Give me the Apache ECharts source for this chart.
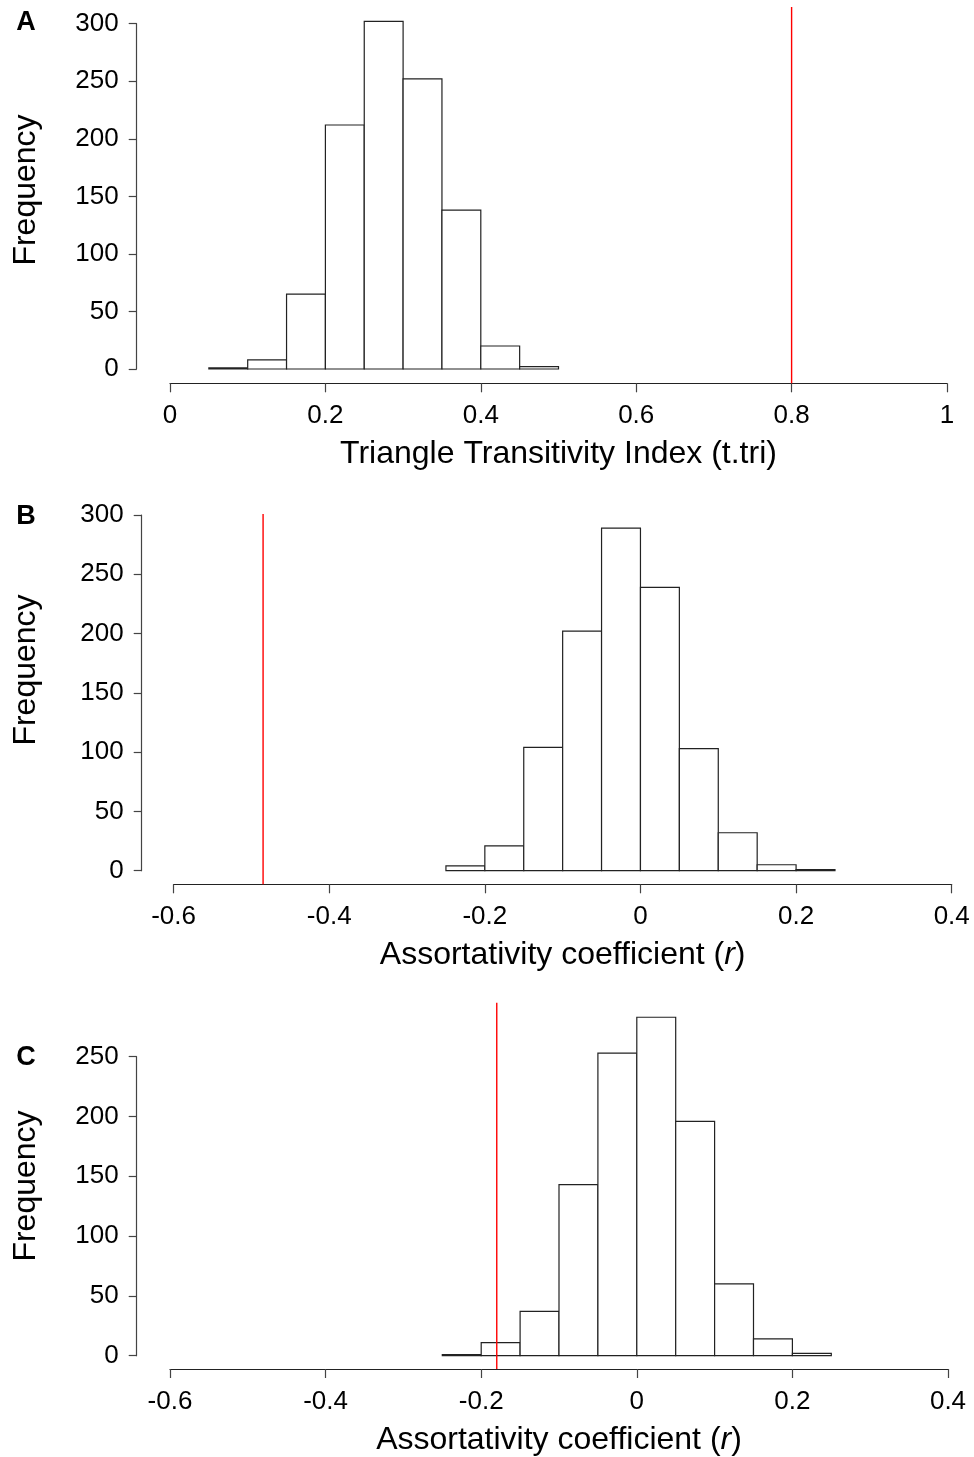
<!DOCTYPE html>
<html>
<head>
<meta charset="utf-8">
<script src="https://cdn.jsdelivr.net/npm/echarts@6/dist/echarts.min.js"></script>
<style>
html, body { margin: 0; padding: 0; background: #fff; }
#chart { width: 974px; height: 1457px; }
</style>
</head>
<body>
<div id="chart"></div>
<script>
// histogram data: lower bin edges and counts (bin width 0.05)
const binWidth = 0.05;

const binsA = [0.05, 0.10, 0.15, 0.20, 0.25, 0.30, 0.35, 0.40, 0.45];
const countsA = [1, 8, 65, 212, 302, 252, 138, 20, 2];
const observedA = 0.8;

const binsB = [-0.25, -0.20, -0.15, -0.10, -0.05, 0, 0.05, 0.10, 0.15, 0.20];
const countsB = [4, 21, 104, 202, 289, 239, 103, 32, 5, 1];
const observedB = -0.485;

const binsC = [-0.25, -0.20, -0.15, -0.10, -0.05, 0, 0.05, 0.10, 0.15, 0.20];
const countsC = [1, 11, 37, 143, 253, 283, 196, 60, 14, 2];
const observedC = -0.18;

const xRangeA = [0, 1];
const xRangeB = [-0.6, 0.4];
const xRangeC = [-0.6, 0.4];
const yMaxA = 300, yMaxB = 300, yMaxC = 250;

const FONT = '"Liberation Sans", Arial, Helvetica, sans-serif';

// layout of each panel (pixels)
const panels = [
    { letter: 'A', bins: binsA, counts: countsA, obs: observedA, xr: xRangeA, ymax: yMaxA,
      left: 170, right: 947, top: 23.7, base: 369, yAxisX: 136.7, xAxisY: 383.3, redTop: 7,
      freqY: 190, letterY: 23,
      title: 'Triangle Transitivity Index (t.tri)' },
    { letter: 'B', bins: binsB, counts: countsB, obs: observedB, xr: xRangeB, ymax: yMaxB,
      left: 173.6, right: 951.7, top: 515, base: 870.7, yAxisX: 141.7, xAxisY: 884.3, redTop: 514,
      freqY: 670, letterY: 517,
      title: 'Assortativity coefficient ({i|r})' },
    { letter: 'C', bins: binsC, counts: countsC, obs: observedC, xr: xRangeC, ymax: yMaxC,
      left: 170, right: 948, top: 1056.7, base: 1355.7, yAxisX: 136.7, xAxisY: 1369, redTop: 1002.7,
      freqY: 1186, letterY: 1058,
      title: 'Assortativity coefficient ({i|r})' }
];

function renderBin(params, api) {
    const p0 = api.coord([api.value(0), api.value(2)]);
    const p1 = api.coord([api.value(1), 0]);
    return {
        type: 'rect',
        shape: { x: p0[0], y: p0[1], width: p1[0] - p0[0], height: p1[1] - p0[1] },
        style: { fill: '#fff', stroke: '#222', lineWidth: 1.2 }
    };
}

const grid = [], xAxis = [], yAxis = [], series = [], graphic = [];

panels.forEach((p) => {
    const g = grid.length;
    // main plotting grid
    grid.push({ left: p.left, width: p.right - p.left, top: p.top, height: p.base - p.top });
    // overlay grid for the observed value line
    grid.push({ left: p.left, width: p.right - p.left, top: p.redTop, height: p.xAxisY - p.redTop });

    xAxis.push({
        type: 'value', gridIndex: g, min: p.xr[0], max: p.xr[1], interval: 0.2,
        offset: p.xAxisY - p.base,
        axisLine: { show: true, onZero: false, lineStyle: { color: '#222', width: 1.2 } },
        axisTick: { show: true, length: 9, lineStyle: { color: '#444', width: 1.2 } },
        axisLabel: { color: '#000', fontSize: 26, fontFamily: FONT, margin: 20 },
        splitLine: { show: false },
        name: p.title, nameLocation: 'middle', nameGap: 55,
        nameTextStyle: { color: '#000', fontSize: 32, fontFamily: FONT,
            rich: { i: { fontStyle: 'italic', fontSize: 32, fontFamily: FONT, color: '#000' } } }
    });
    xAxis.push({ type: 'value', gridIndex: g + 1, min: p.xr[0], max: p.xr[1], show: false });

    yAxis.push({
        type: 'value', gridIndex: g, min: 0, max: p.ymax, interval: 50,
        offset: p.left - p.yAxisX,
        axisLine: { show: true, onZero: false, lineStyle: { color: '#444', width: 1.2 } },
        axisTick: { show: true, length: 8, lineStyle: { color: '#444', width: 1.2 } },
        axisLabel: { color: '#000', fontSize: 26, fontFamily: FONT, margin: 18 },
        splitLine: { show: false }
    });
    yAxis.push({ type: 'value', gridIndex: g + 1, min: 0, max: 1, show: false });

    series.push({
        type: 'custom', xAxisIndex: g, yAxisIndex: g,
        renderItem: renderBin,
        encode: { x: [0, 1], y: 2 },
        data: p.bins.map((b, k) => [b, b + binWidth, p.counts[k]]),
        silent: true
    });
    series.push({
        type: 'line', xAxisIndex: g + 1, yAxisIndex: g + 1,
        data: [[p.obs, 0], [p.obs, 1]],
        symbol: 'none', silent: true,
        lineStyle: { color: '#ff0000', width: 1.4 }
    });

    graphic.push({
        type: 'text', x: 26, y: p.freqY, rotation: Math.PI / 2,
        style: { text: 'Frequency', font: '32px ' + FONT, fill: '#000',
                 textAlign: 'center', textVerticalAlign: 'middle' }
    });
    graphic.push({
        type: 'text', x: 26, y: p.letterY,
        style: { text: p.letter, font: 'bold 27px ' + FONT, fill: '#000',
                 textAlign: 'center', textVerticalAlign: 'middle' }
    });
});

const chart = echarts.init(document.getElementById('chart'), null, { renderer: 'canvas' });
chart.setOption({
    animation: false,
    backgroundColor: '#fff',
    grid, xAxis, yAxis, series, graphic
});
</script>
</body>
</html>
